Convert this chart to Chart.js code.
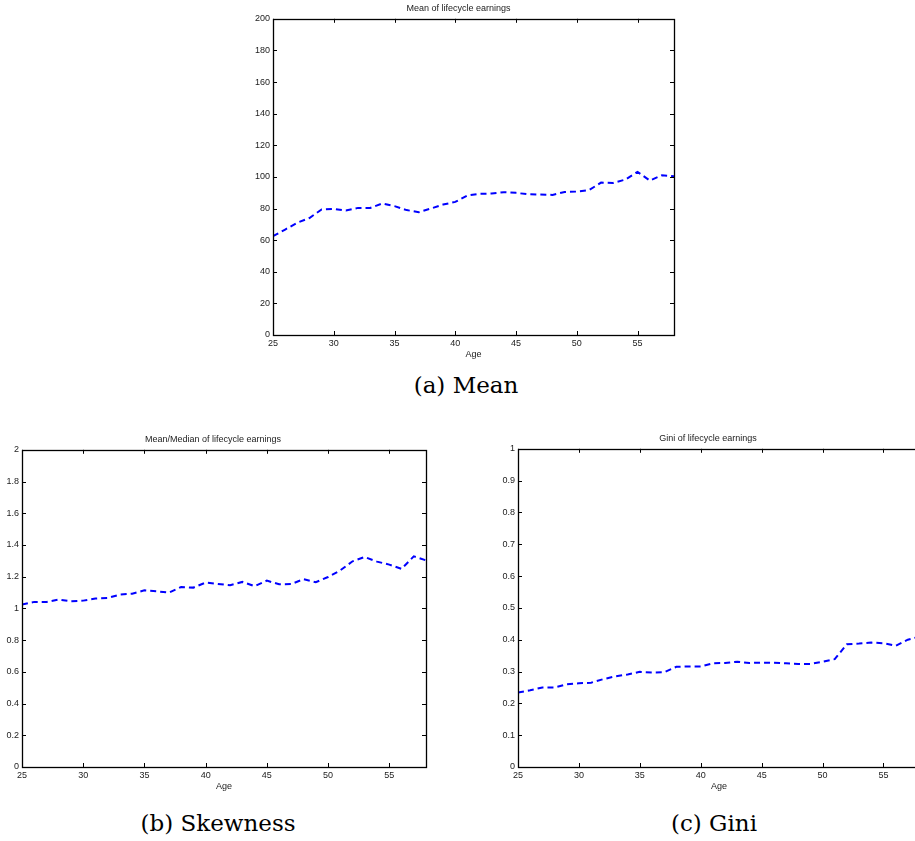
<!DOCTYPE html>
<html>
<head>
<meta charset="utf-8">
<script src="https://cdn.jsdelivr.net/npm/chart.js@4/dist/chart.umd.min.js"></script>
<style>
  html, body { margin: 0; padding: 0; background: #fff; overflow: hidden; width: 915px; height: 841px; }
  .box { position: absolute; }
  .cap { position: absolute; font-family: "DejaVu Serif", serif; font-size: 23px; color: #000; transform: translate(-50%, -50%); white-space: nowrap; }
</style>
</head>
<body>
<div class="box" id="boxA" style="left:243px; top:0px; width:437px; height:365px;"><canvas id="chartA"></canvas></div>
<div class="box" id="boxB" style="left:0px; top:431px; width:432px; height:366px;"><canvas id="chartB"></canvas></div>
<div class="box" id="boxC" style="left:496px; top:430px; width:430px; height:367px;"><canvas id="chartC"></canvas></div>
<div class="cap" style="left:466px; top:385px;">(a) Mean</div>
<div class="cap" style="left:218px; top:823px;">(b) Skewness</div>
<div class="cap" style="left:714px; top:823px;">(c) Gini</div>
<script>
'use strict'

// ages 25..58
let ages = [25, 26, 27, 28, 29, 30, 31, 32, 33, 34, 35, 36, 37, 38, 39, 40, 41,
  42, 43, 44, 45, 46, 47, 48, 49, 50, 51, 52, 53, 54, 55, 56, 57, 58]

let meanEarn = [62.5, 66.7, 71, 74, 79.4, 79.8, 78.7, 80.4, 80.4, 83.2, 81.5, 79, 77.7, 80, 82.5, 84.2, 88.2,
  89.3, 89.5, 90.3, 89.9, 89, 88.8, 88.6, 90.5, 90.7, 91.6, 96.4, 96.2, 98.3, 103.2, 97.7, 101, 100.4]

let skewEarn = [1.024, 1.041, 1.041, 1.056, 1.045, 1.049, 1.062, 1.066, 1.087, 1.093, 1.114, 1.108, 1.1, 1.135, 1.131, 1.163, 1.154,
  1.146, 1.167, 1.14, 1.175, 1.152, 1.154, 1.184, 1.165, 1.198, 1.24, 1.297, 1.324, 1.295, 1.276, 1.249, 1.328, 1.303]

let giniEarn = [0.234, 0.241, 0.25, 0.25, 0.26, 0.263, 0.265, 0.276, 0.285, 0.291, 0.299, 0.297, 0.298, 0.315, 0.316, 0.316, 0.326,
  0.327, 0.331, 0.327, 0.328, 0.328, 0.326, 0.324, 0.324, 0.331, 0.339, 0.386, 0.388, 0.391, 0.389, 0.381, 0.4, 0.41]

let xTicks = [25, 30, 35, 40, 45, 50, 55]
let yTicksMean = [0, 20, 40, 60, 80, 100, 120, 140, 160, 180, 200]
let yTicksSkew = [0, 0.2, 0.4, 0.6, 0.8, 1, 1.2, 1.4, 1.6, 1.8, 2]
let yTicksGini = [0, 0.1, 0.2, 0.3, 0.4, 0.5, 0.6, 0.7, 0.8, 0.9, 1]

let fontFam = '"Liberation Sans", Arial, sans-serif'
let textCol = '#222'

// matlab style box with ticks pointing inwards
let boxPlugin = {
  id: 'matlabBox',
  afterDraw(chart) {
    let ctx = chart.ctx
    let a = chart.chartArea
    let len = 4
    ctx.save()
    ctx.strokeStyle = '#000'
    ctx.lineWidth = 1
    ctx.beginPath()
    chart.scales.x.ticks.forEach(t => {
      let px = Math.round(chart.scales.x.getPixelForValue(t.value)) + 0.5
      ctx.moveTo(px, a.bottom); ctx.lineTo(px, a.bottom - len)
      ctx.moveTo(px, a.top); ctx.lineTo(px, a.top + len)
    })
    chart.scales.y.ticks.forEach(t => {
      let py = Math.round(chart.scales.y.getPixelForValue(t.value)) + 0.5
      ctx.moveTo(a.left, py); ctx.lineTo(a.left + len, py)
      ctx.moveTo(a.right, py); ctx.lineTo(a.right - len, py)
    })
    ctx.stroke()
    ctx.lineWidth = 1.3
    ctx.strokeRect(Math.round(a.left) + 0.5, Math.round(a.top) + 0.5,
      Math.round(a.right - a.left), Math.round(a.bottom - a.top))
    ctx.restore()
  }
}

function makeChart(id, title, values, yMax, yTicks, yWidth) {
  let ctx = document.getElementById(id)
  let pts = ages.map((a, i) => ({ x: a, y: values[i] }))
  return new Chart(ctx, {
    type: 'line',
    data: {
      datasets: [{
        data: pts,
        borderColor: '#0000ff',
        borderWidth: 2,
        borderDash: [6, 4],
        pointRadius: 0,
        tension: 0,
        fill: false
      }]
    },
    options: {
      responsive: true,
      maintainAspectRatio: false,
      animation: false,
      layout: { padding: { left: 0, right: 6, top: 0, bottom: 0 } },
      plugins: {
        legend: { display: false },
        tooltip: { enabled: false },
        title: {
          display: true,
          text: title,
          color: textCol,
          font: { family: fontFam, size: 9, weight: 'normal' },
          padding: { top: 3, bottom: 5 }
        }
      },
      scales: {
        x: {
          type: 'linear',
          min: 25,
          max: 58,
          grid: { display: false, drawTicks: false },
          border: { display: false },
          afterBuildTicks: s => { s.ticks = xTicks.map(v => ({ value: v })) },
          afterFit: s => { s.height = 30 },
          ticks: {
            color: textCol,
            padding: 3,
            maxRotation: 0,
            font: { family: fontFam, size: 9 },
            callback: v => String(v)
          },
          title: {
            display: true,
            text: 'Age',
            color: textCol,
            font: { family: fontFam, size: 9 },
            padding: { top: 0, bottom: 5 }
          }
        },
        y: {
          min: 0,
          max: yMax,
          grid: { display: false, drawTicks: false },
          border: { display: false },
          afterBuildTicks: s => { s.ticks = yTicks.map(v => ({ value: v })) },
          afterFit: s => { s.width = yWidth },
          ticks: {
            color: textCol,
            padding: 3,
            font: { family: fontFam, size: 9 },
            callback: v => String(v)
          }
        }
      }
    },
    plugins: [boxPlugin]
  })
}

makeChart('chartA', 'Mean of lifecycle earnings', meanEarn, 200, yTicksMean, 30)
makeChart('chartB', 'Mean/Median of lifecycle earnings', skewEarn, 2, yTicksSkew, 22)
makeChart('chartC', 'Gini of lifecycle earnings', giniEarn, 1, yTicksGini, 22)
</script>
</body>
</html>
